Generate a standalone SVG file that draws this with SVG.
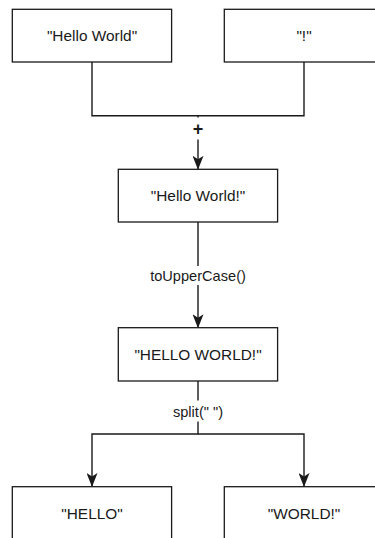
<svg xmlns="http://www.w3.org/2000/svg" width="375" height="538" viewBox="0 0 375 538">
  <style>
    .box { fill: #ffffff; stroke: #1a1a1a; stroke-width: 1.3; }
    .txt { font-family: "Liberation Sans", Arial, sans-serif; font-size: 15.4px; fill: #1a1a1a; text-anchor: middle; }
    .lbl { font-family: "Liberation Sans", Arial, sans-serif; font-size: 14.6px; fill: #1a1a1a; text-anchor: middle; }
    .plus { font-family: "Liberation Sans", Arial, sans-serif; font-size: 18px; font-weight: bold; fill: #1a1a1a; text-anchor: middle; }
    .edge { fill: none; stroke: #1a1a1a; stroke-width: 1.4; }
    .lblbg { fill: #ffffff; }
  </style>
  <defs>
    <marker id="arrow" markerUnits="userSpaceOnUse" markerWidth="14" markerHeight="11" viewBox="0 0 14 11" refX="13.5" refY="5.5" orient="auto">
      <path d="M0,0 L14,5.5 L0,11 L3.5,5.5 Z" fill="#1a1a1a"/>
    </marker>
  </defs>
  <rect width="375" height="538" fill="#ffffff"/>
  <g id="connectors">
    <path class="edge" d="M92,62 V115.7 H304 V62"/>
    <path class="edge" d="M198,115.7 V169.3" marker-end="url(#arrow)"/>
    <path class="edge" d="M198,222 V327.7" marker-end="url(#arrow)"/>
    <path class="edge" d="M198,381 V434 H92 V486.5" marker-end="url(#arrow)"/>
    <path class="edge" d="M198,434 H304 V486.5" marker-end="url(#arrow)"/>
    <rect class="lblbg" x="190" y="117.5" width="16" height="22"/>
    <text class="plus" x="198" y="134.5">+</text>
    <rect class="lblbg" x="148" y="266" width="100" height="19"/>
    <text class="lbl" x="198" y="281">toUpperCase()</text>
    <rect class="lblbg" x="170" y="400.5" width="56" height="21"/>
    <text class="lbl" x="198" y="416.5">split(" ")</text>
  </g>
  <g id="node-hello-world">
    <rect class="box" x="12.3" y="9.3" width="159.3" height="52.7"/>
    <text class="txt" x="92" y="41">"Hello World"</text>
  </g>
  <g id="node-exclaim">
    <rect class="box" x="224.3" y="9.3" width="159.3" height="52.7"/>
    <text class="txt" x="304" y="41">"!"</text>
  </g>
  <g id="node-hello-world-excl">
    <rect class="box" x="118.3" y="169.3" width="159.3" height="52.7"/>
    <text class="txt" x="198" y="201">"Hello World!"</text>
  </g>
  <g id="node-upper">
    <rect class="box" x="118.3" y="327.7" width="159.3" height="53.3"/>
    <text class="txt" x="198" y="359.5">"HELLO WORLD!"</text>
  </g>
  <g id="node-hello">
    <rect class="box" x="12.3" y="486.7" width="159.3" height="53"/>
    <text class="txt" x="92" y="518.5">"HELLO"</text>
  </g>
  <g id="node-world">
    <rect class="box" x="224.3" y="486.7" width="159.3" height="53"/>
    <text class="txt" x="304" y="518.5">"WORLD!"</text>
  </g>
</svg>
